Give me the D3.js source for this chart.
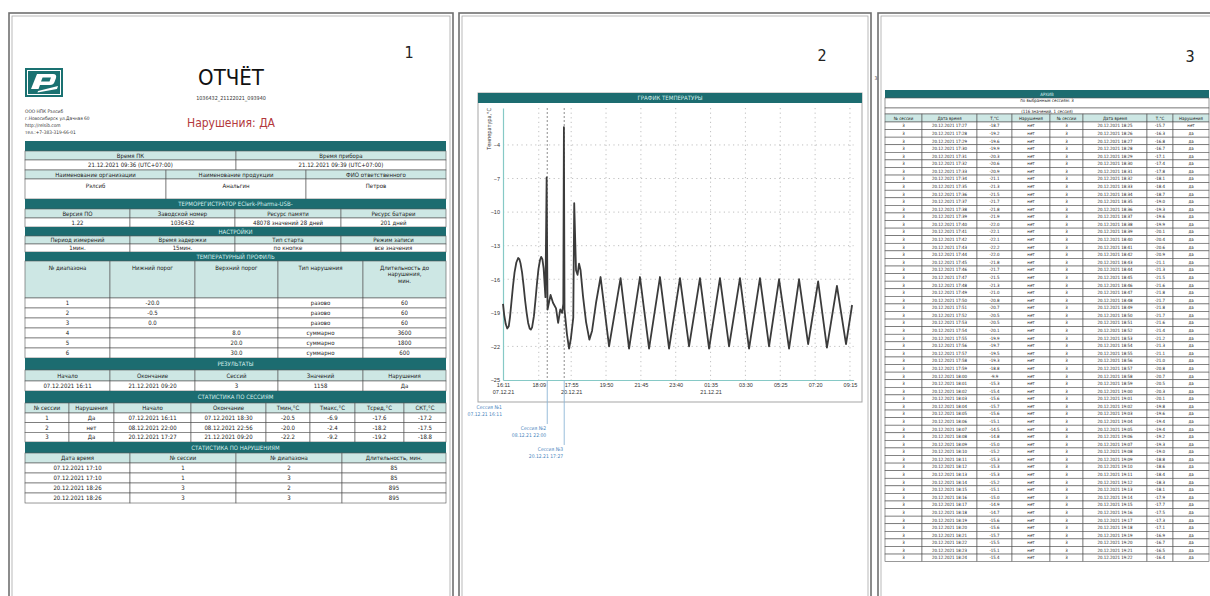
<!DOCTYPE html>
<html>
<head>
<meta charset="utf-8">
<script src="https://cdn.jsdelivr.net/npm/d3@7"></script>
<style>
  body { margin: 0; background: #fff; }
  svg { display: block; font-family: "Liberation Sans Narrow", "DejaVu Sans Condensed", "Roboto Condensed", Roboto, sans-serif; }
</style>
</head>
<body>
<svg id="report" width="1210" height="596"></svg>
<script>
// ---------- page 1: report data ----------
const company = ["ООО НПК Рэлсиб", "г.Новосибирск ул.Дачная 60", "http://relsib.com", "тел.:+7-383-319-66-01"];
const reportId = "1036432_21122021_093940";
const pcTimeHead = ["Время ПК", "Время прибора"];
const pcTimeVals = ["21.12.2021 09:36 (UTC+07:00)", "21.12.2021 09:39 (UTC+07:00)"];
const orgHead = ["Наименование организации", "Наименование продукции", "ФИО ответственного"];
const orgVals = ["Рэлсиб", "Анальгин", "Петров"];
const deviceTitle = "ТЕРМОРЕГИСТРАТОР EClerk-Pharma-USB-";
const deviceHead = ["Версия ПО", "Заводской номер", "Ресурс памяти", "Ресурс батареи"];
const deviceVals = ["1.22", "1036432", "48078 значений 28 дней", "201 дней"];
const settingsHead = ["Период измерений", "Время задержки", "Тип старта", "Режим записи"];
const settingsVals = ["1мин.", "15мин.", "по кнопке", "все значения"];
const profileHead = ["№ диапазона", "Нижний порог", "Верхний порог", "Тип нарушения", "Длительность до\nнарушения,\nмин."];
const rangeNo = ["1", "2", "3", "4", "5", "6"];
const rangeLow = ["-20.0", "-0.5", "0.0", "", "", ""];
const rangeHigh = ["", "", "", "8.0", "20.0", "30.0"];
const rangeType = ["разово", "разово", "разово", "суммарно", "суммарно", "суммарно"];
const rangeDur = ["60", "60", "60", "3600", "1800", "600"];
const resultHead = ["Начало", "Окончание", "Сессий", "Значений", "Нарушения"];
const resultVals = ["07.12.2021 16:11", "21.12.2021 09:20", "3", "1158", "Да"];
const sessHead = ["№ сессии", "Нарушения", "Начало", "Окончание", "Tмин,°C", "Tмакс,°C", "Tсред,°C", "СКТ,°C"];
const sessNo = ["1", "2", "3"];
const sessViol = ["Да", "нет", "Да"];
const sessBegin = ["07.12.2021 16:11", "08.12.2021 22:00", "20.12.2021 17:27"];
const sessEnd = ["07.12.2021 18:30", "08.12.2021 22:56", "21.12.2021 09:20"];
const sessTmin = ["-20.5", "-20.0", "-22.2"];
const sessTmax = ["-6.9", "-2.4", "-9.2"];
const sessTavg = ["-17.6", "-18.2", "-19.2"];
const sessMkt = ["-17.2", "-17.5", "-18.8"];
const violHead = ["Дата время", "№ сессии", "№ диапазона", "Длительность, мин."];
const violTime = ["07.12.2021 17:10", "07.12.2021 17:10", "20.12.2021 18:26", "20.12.2021 18:26"];
const violSess = ["1", "1", "3", "3"];
const violRange = ["2", "3", "2", "3"];
const violDur = ["85", "85", "895", "895"];

// ---------- page 2: temperature chart data ----------
// x = sample number (1 min each, sessions joined), y = temperature, °C
const sampleIdx = [0, 4, 9, 14, 19, 23, 28, 33, 38, 44, 50, 54, 58, 63, 68, 73, 78, 83, 88, 92, 96, 102, 107, 112, 117, 122, 126, 130, 134, 140, 144,
  147, 157, 165, 175, 182, 189, 195, 199, 201,
  203, 211, 218, 224, 232, 235, 241, 246, 251, 256, 264, 274, 285, 294, 307, 322,
  350, 388, 416, 452, 482, 518, 548, 584, 614, 650, 680, 716, 746, 782, 812, 848,
  878, 911, 944, 977, 1007, 1040, 1069, 1102, 1132, 1152];
const sampleTemp = [-18.2, -19.2, -20.0, -20.4, -20.2, -19.4, -18.0, -16.6, -15.4, -14.5, -14.1, -14.2, -14.6, -15.4, -16.6, -17.9, -19.0, -19.9, -20.4, -20.5, -20.3, -19.3, -17.9, -16.4, -15.1, -14.3, -14.0, -14.2, -15.0, -17.6, -6.9,
  -18.7, -17.4, -18.1, -18.6, -19.9, -18.7, -19.0, -18.2, -2.4,
  -18.7, -20.9, -22.2, -21.3, -19.4, -9.2, -15.2, -15.6, -14.6, -15.2, -17.5, -19.8, -21.4, -20.6, -18.1, -15.8,
  -22.0, -15.9, -22.2, -15.8, -22.2, -15.8, -22.2, -15.9, -22.0, -15.9, -22.2, -15.9, -22.0, -15.9, -22.2, -15.9,
  -22.0, -16.0, -22.2, -16.0, -21.8, -16.2, -22.1, -16.6, -21.8, -18.3];
const yTicks = [-4, -7, -10, -13, -16, -19, -22, -25];
const xTickIdx = [0, 118, 225, 340, 455, 570, 685, 800, 915, 1030, 1145];
const xTickTime = ["16:11", "18:09", "17:55", "19:50", "21:45", "23:40", "01:35", "03:30", "05:25", "07:20", "09:15"];
const xTickDate = ["07.12.21", "", "20.12.21", "", "", "", "21.12.21", "", "", "", ""];
const sessionNames = ["Сессия №1", "Сессия №2", "Сессия №3"];
const sessionStartText = ["07.12.21 16:11", "08.12.21 22:00", "20.12.21 17:27"];
const sessionStartIdx = [0, 146, 202];

// ---------- page 3: archive data (session 3) ----------
const archLeftTime = ("17:27 17:28 17:29 17:30 17:31 17:32 17:33 17:34 17:35 17:36 17:37 17:38 17:39 17:40 17:41 " +
  "17:42 17:43 17:44 17:45 17:46 17:47 17:48 17:49 17:50 17:51 17:52 17:53 17:54 17:55 17:56 17:57 17:58 17:59 " +
  "18:00 18:01 18:02 18:03 18:04 18:05 18:06 18:07 18:08 18:09 18:10 18:11 18:12 18:13 18:14 18:15 18:16 18:17 " +
  "18:18 18:19 18:20 18:21 18:22 18:23 18:24").split(" ");
const archLeftTemp = [-18.7, -19.2, -19.6, -19.9, -20.3, -20.6, -20.9, -21.1, -21.3, -21.5, -21.7, -21.8, -21.9, -22.0, -22.1,
  -22.1, -22.2, -22.0, -21.8, -21.7, -21.5, -21.3, -21.0, -20.8, -20.7, -20.5, -20.5, -20.1, -19.9, -19.7, -19.5, -19.3, -18.8,
  -9.9, -15.3, -15.4, -15.6, -15.7, -15.6, -15.1, -14.5, -14.8, -15.0, -15.2, -15.3, -15.3, -15.3, -15.2, -15.1, -15.0, -14.9,
  -14.7, -15.6, -15.6, -15.7, -15.5, -15.1, -15.4];
const archRightTime = ("18:25 18:26 18:27 18:28 18:29 18:30 18:31 18:32 18:33 18:34 18:35 18:36 18:37 18:38 18:39 " +
  "18:40 18:41 18:42 18:43 18:44 18:45 18:46 18:47 18:48 18:49 18:50 18:51 18:52 18:53 18:54 18:55 18:56 18:57 " +
  "18:58 18:59 19:00 19:01 19:02 19:03 19:04 19:05 19:06 19:07 19:08 19:09 19:10 19:11 19:12 19:13 19:14 19:15 " +
  "19:16 19:17 19:18 19:19 19:20 19:21 19:22").split(" ");
const archRightTemp = [-15.7, -16.3, -16.8, -16.7, -17.1, -17.4, -17.8, -18.1, -18.4, -18.7, -19.0, -19.3, -19.6, -19.9, -20.1,
  -20.4, -20.6, -20.9, -21.1, -21.3, -21.5, -21.6, -21.8, -21.7, -21.8, -21.7, -21.6, -21.4, -21.2, -21.3, -21.1, -21.0, -20.8,
  -20.7, -20.5, -20.3, -20.1, -19.8, -19.6, -19.4, -19.4, -19.2, -19.3, -19.0, -18.8, -18.6, -18.4, -18.3, -18.1, -17.9, -17.7,
  -17.5, -17.3, -17.1, -16.9, -16.7, -16.5, -16.4];
const archHead = ["№ сессии", "Дата время", "T,°C", "Нарушения", "№ сессии", "Дата время", "T,°C", "Нарушения"];

// ---------- styles ----------
const DARK = "#1c6c70", DARK_TEXT = "#d6efec", LIGHT = "#cde7e4", BORDER = "#555";

const svg = d3.select("#report");

// pages with double border
const pages = [
  { x0: 9, x1: 453, num: "1", nx: 409, ny: 58 },
  { x0: 459, x1: 871, num: "2", nx: 822, ny: 61 },
  { x0: 878, x1: 1218, num: "3", nx: 1190, ny: 62 }
];
pages.forEach(p => {
  svg.append("rect").attr("x", p.x0).attr("y", 13).attr("width", p.x1 - p.x0).attr("height", 640)
    .attr("fill", "#fff").attr("stroke", "#707070").attr("stroke-width", 1.6);
  svg.append("rect").attr("x", p.x0 + 3).attr("y", 16).attr("width", p.x1 - p.x0 - 6).attr("height", 640)
    .attr("fill", "none").attr("stroke", "#a8a8a8").attr("stroke-width", 0.8);
  svg.append("text").attr("x", p.nx).attr("y", p.ny).attr("text-anchor", "middle")
    .attr("font-size", 16).attr("fill", "#222").text(p.num);
});
svg.append("text").attr("x", 876).attr("y", 80).attr("text-anchor", "middle")
  .attr("font-size", 5).attr("fill", "#444").text("3");

// generic table drawer
function drawTable(g, x0, x1, y0, rows, fs) {
  let y = y0;
  rows.forEach(r => {
    if (r.type === "dark") {
      g.append("rect").attr("x", x0).attr("y", y).attr("width", x1 - x0).attr("height", r.h).attr("fill", DARK);
      g.append("text").attr("x", (x0 + x1) / 2).attr("y", y + r.h / 2 + fs * 0.36)
        .attr("text-anchor", "middle").attr("font-size", fs).attr("fill", DARK_TEXT).text(r.text);
    } else {
      const cols = r.cols || [x0, x1];
      const cells = r.cells || [r.text];
      cells.forEach((c, i) => {
        const cx0 = cols[i], cx1 = cols[i + 1];
        g.append("rect").attr("x", cx0).attr("y", y).attr("width", cx1 - cx0).attr("height", r.h)
          .attr("fill", r.type === "head" ? LIGHT : "#fff").attr("stroke", BORDER).attr("stroke-width", 0.6);
        const lines = String(c).split("\n");
        const t = g.append("text").attr("text-anchor", "middle").attr("font-size", fs).attr("fill", "#1a1a1a");
        lines.forEach((ln, k) => {
          const ty = r.top != null ? y + r.top + k * fs * 1.15 : y + r.h / 2 + fs * 0.36;
          t.append("tspan").attr("x", (cx0 + cx1) / 2).attr("y", ty).text(ln);
        });
      });
    }
    y += r.h;
  });
  return y;
}

// ---------- page 1 ----------
const p1 = svg.append("g");
// logo
p1.append("rect").attr("x", 25).attr("y", 68).attr("width", 38).attr("height", 29).attr("fill", "#1a7171");
p1.append("rect").attr("x", 27.5).attr("y", 70.5).attr("width", 33).attr("height", 24)
  .attr("fill", "none").attr("stroke", "#fff").attr("stroke-width", 1);
p1.append("path").attr("d", "M31,89 L37,74 L53,74 Q57,74 56,78 L54.5,82 Q53.5,85 50,85 L40,85 L38.5,89 Z M41,81.5 L49.5,81.5 L51,77.5 L42.6,77.5 Z")
  .attr("fill", "#fff").attr("fill-rule", "evenodd");
p1.append("path").attr("d", "M38,91 L58,86 L57,89 L37.5,92.5 Z").attr("fill", "#fff");
company.forEach((s, i) => {
  p1.append("text").attr("x", 25).attr("y", 113 + i * 7).attr("font-size", 4.8).attr("fill", "#333").text(s);
});
p1.append("text").attr("x", 231).attr("y", 85).attr("text-anchor", "middle").attr("font-size", 22)
  .attr("fill", "#111").text("ОТЧЁТ");
p1.append("text").attr("x", 231).attr("y", 100).attr("text-anchor", "middle").attr("font-size", 5.4)
  .attr("fill", "#333").text(reportId);
p1.append("text").attr("x", 231).attr("y", 127).attr("text-anchor", "middle").attr("font-size", 12)
  .attr("fill", "#b3383c").text("Нарушения: ДА");

const c2 = [25, 236, 446], c3 = [25, 166, 306, 446], c4 = [25, 130, 235, 341, 446];
const c5 = [25, 110, 195, 278, 363, 446], c8 = [25, 69, 114, 191, 266, 310, 355, 404, 446];
const c4b = [25, 130, 236, 342, 446];
const rows1 = [
  { type: "dark", h: 10, text: "" },
  { type: "head", h: 9, cols: c2, cells: pcTimeHead },
  { type: "cell", h: 10, cols: c2, cells: pcTimeVals },
  { type: "head", h: 9, cols: c3, cells: orgHead },
  { type: "cell", h: 20, cols: c3, cells: orgVals, top: 8.5 },
  { type: "dark", h: 10, text: deviceTitle },
  { type: "head", h: 9, cols: c4, cells: deviceHead },
  { type: "cell", h: 9, cols: c4, cells: deviceVals },
  { type: "dark", h: 9, text: "НАСТРОЙКИ" },
  { type: "head", h: 8, cols: c4, cells: settingsHead },
  { type: "cell", h: 8, cols: c4, cells: settingsVals },
  { type: "dark", h: 9, text: "ТЕМПЕРАТУРНЫЙ ПРОФИЛЬ" },
  { type: "head", h: 37, cols: c5, cells: profileHead, top: 8.5 }
];
rangeNo.forEach((n, i) => rows1.push({ type: "cell", h: 10, cols: c5, cells: [n, rangeLow[i], rangeHigh[i], rangeType[i], rangeDur[i]] }));
rows1.push({ type: "dark", h: 12, text: "РЕЗУЛЬТАТЫ" });
rows1.push({ type: "head", h: 11, cols: c5, cells: resultHead });
rows1.push({ type: "cell", h: 10, cols: c5, cells: resultVals });
rows1.push({ type: "dark", h: 12, text: "СТАТИСТИКА ПО СЕССИЯМ" });
rows1.push({ type: "head", h: 10, cols: c8, cells: sessHead });
sessNo.forEach((n, i) => rows1.push({ type: "cell", h: 9.67, cols: c8,
  cells: [n, sessViol[i], sessBegin[i], sessEnd[i], sessTmin[i], sessTmax[i], sessTavg[i], sessMkt[i]] }));
rows1.push({ type: "dark", h: 11, text: "СТАТИСТИКА ПО НАРУШЕНИЯМ" });
rows1.push({ type: "head", h: 10, cols: c4b, cells: violHead });
violTime.forEach((t, i) => rows1.push({ type: "cell", h: 10, cols: c4b, cells: [t, violSess[i], violRange[i], violDur[i]] }));
drawTable(p1, 25, 446, 141, rows1, 6);

// ---------- page 2: chart ----------
const p2 = svg.append("g");
const frame = { x0: 478, x1: 862, y0: 93, y1: 402 };
p2.append("rect").attr("x", frame.x0).attr("y", frame.y0).attr("width", frame.x1 - frame.x0)
  .attr("height", frame.y1 - frame.y0).attr("fill", "#fff").attr("stroke", "#a5a5a5").attr("stroke-width", 1);
p2.append("rect").attr("x", frame.x0).attr("y", frame.y0).attr("width", frame.x1 - frame.x0)
  .attr("height", 10).attr("fill", DARK);
p2.append("text").attr("x", (frame.x0 + frame.x1) / 2).attr("y", frame.y0 + 7.2).attr("text-anchor", "middle")
  .attr("font-size", 6).attr("fill", DARK_TEXT).text("ГРАФИК ТЕМПЕРАТУРЫ");

const x = d3.scaleLinear().domain([0, 1157]).range([503, 853.6]);
const y = d3.scaleLinear().domain([-25, -0.7]).range([380, 108]);

// grid
p2.append("g").selectAll("line").data(yTicks.filter(v => v !== -25)).join("line")
  .attr("x1", x(0)).attr("x2", x(1157)).attr("y1", d => y(d)).attr("y2", d => y(d))
  .attr("stroke", "#b0b0b0").attr("stroke-width", 0.8).attr("stroke-dasharray", "1.2,3.4");
p2.append("g").selectAll("line").data(xTickIdx.slice(1)).join("line")
  .attr("x1", d => x(d)).attr("x2", d => x(d)).attr("y1", y(-0.7)).attr("y2", y(-25))
  .attr("stroke", "#b0b0b0").attr("stroke-width", 0.8).attr("stroke-dasharray", "1.2,3.4");
// session markers inside the plot
p2.append("g").selectAll("line").data(sessionStartIdx.slice(1)).join("line")
  .attr("x1", d => x(d)).attr("x2", d => x(d)).attr("y1", y(-0.7)).attr("y2", y(-25))
  .attr("stroke", "#707070").attr("stroke-width", 0.8).attr("stroke-dasharray", "2,2");

// axes
const yAxis = p2.append("g").attr("transform", `translate(${x(0)},0)`)
  .call(d3.axisLeft(y).tickValues(yTicks).tickSize(0).tickPadding(3));
const xAxis = p2.append("g").attr("transform", `translate(0,${y(-25)})`)
  .call(d3.axisBottom(x).tickValues(xTickIdx).tickSize(0).tickPadding(3).tickFormat((d, i) => xTickTime[i]));
[yAxis, xAxis].forEach(a => {
  a.select(".domain").attr("stroke", "#86c9c6").attr("stroke-width", 1.2);
  a.selectAll("text").attr("font-size", 5.5).attr("fill", "#333").attr("font-family", null);
});
xAxis.selectAll(".tick text").each(function (d, i) {
  if (xTickDate[i]) {
    d3.select(this).append("tspan").attr("x", 0).attr("dy", "1.35em").text(xTickDate[i]);
  }
});
p2.append("text").attr("transform", `translate(491,108) rotate(-90)`).attr("text-anchor", "end")
  .attr("font-size", 5.5).attr("fill", "#333").text("Температура,°C");

// temperature line
const series = sampleIdx.map((d, i) => [d, sampleTemp[i]]);
p2.append("path").datum(series)
  .attr("d", d3.line().x(d => x(d[0])).y(d => y(d[1])))
  .attr("fill", "none").attr("stroke", "#3b3b3b").attr("stroke-width", 1.8).attr("stroke-linejoin", "round");

// session call-outs below the chart
sessionStartIdx.forEach((s, i) => {
  const sx = x(s), ly = 407 + i * 21;
  if (i > 0) {
    p2.append("line").attr("x1", sx).attr("x2", sx).attr("y1", y(-25)).attr("y2", ly - 4)
      .attr("stroke", "#8db6d6").attr("stroke-width", 0.9);
  }
  p2.append("text").attr("x", sx - 1).attr("y", ly + 1.5).attr("text-anchor", "end")
    .attr("font-size", 5).attr("fill", "#4b86bd").text(sessionNames[i]);
  p2.append("text").attr("x", sx - 1).attr("y", ly + 9).attr("text-anchor", "end")
    .attr("font-size", 5).attr("fill", "#4b86bd").text(sessionStartText[i]);
});

// ---------- page 3: archive ----------
const p3 = svg.append("g");
const ca = [885, 922, 977, 1012, 1050, 1083, 1147, 1173, 1209];
const rows3 = [
  { type: "dark", h: 8, text: "АРХИВ" },
  { type: "cell", h: 10, text: "по выбранным сессиям: 3", top: 3.6 },
  { type: "cell", h: 6, text: "(116 значений, 1 сессия)" },
  { type: "head", h: 8, cols: ca, cells: archHead }
];
archLeftTime.forEach((t, i) => rows3.push({ type: "cell", h: 7.58, cols: ca, cells: [
  "3", "20.12.2021 " + t, archLeftTemp[i].toFixed(1), "нет",
  "3", "20.12.2021 " + archRightTime[i], archRightTemp[i].toFixed(1), i === 0 ? "нет" : "да"
] }));
drawTable(p3, 885, 1209, 90, rows3, 4.4);
</script>
</body>
</html>
